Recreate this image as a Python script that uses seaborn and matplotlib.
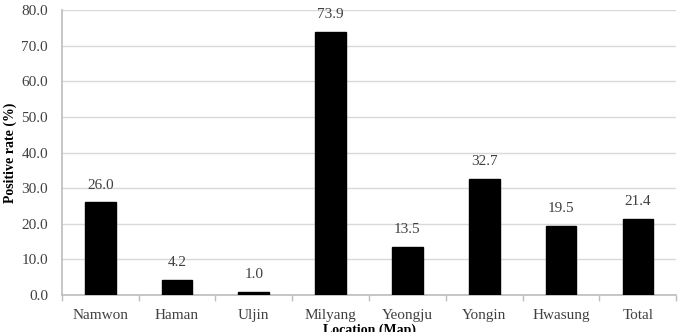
import matplotlib
matplotlib.use("Agg")
import matplotlib.pyplot as plt
import seaborn as sns
import pandas as pd
import numpy as np

locations = ["Namwon", "Haman", "Uljin", "Milyang", "Yeongju", "Yongin", "Hwasung", "Total"]
rates = [26.0, 4.2, 1.0, 73.9, 13.5, 32.7, 19.5, 21.4]
yticks = [0, 10, 20, 30, 40, 50, 60, 70, 80]

sns.set_theme(style="white")
plt.rcParams['font.family'] = ['Liberation Serif', 'DejaVu Serif']

df = pd.DataFrame({"Location": locations, "Rate": rates})

fig = plt.figure(figsize=(6.79, 3.32), dpi=100)
ax = fig.add_axes([0.091, 0.111, 0.905, 0.859])

sns.barplot(data=df, x="Location", y="Rate", color="black", width=0.4,
            edgecolor="black", saturation=1, ax=ax, zorder=3)

txt = "#404040"
fs = 11
for i, v in enumerate(rates):
    ax.text(i, v + 3.0, f"{v:.1f}", ha="center", va="bottom", fontsize=fs, color=txt)

ax.set_ylim(0, 80)
ax.set_xlim(-0.5, len(locations) - 0.5)
ax.set_yticks(yticks)
ax.set_yticklabels([f"{t:.1f}" for t in yticks], fontsize=fs, color=txt)
ax.yaxis.grid(True, color="#d9d9d9", linewidth=1, zorder=0)
ax.set_axisbelow(True)

ax.set_xticks(range(len(locations)))
ax.set_xticklabels(locations, fontsize=fs, color=txt)
ax.tick_params(axis="x", length=0, pad=10)
ax.tick_params(axis="y", length=0, pad=10)
# minor ticks at category boundaries
ax.set_xticks(np.arange(-0.5, len(locations), 1), minor=True)
ax.tick_params(axis="x", which="minor", length=4, color="#bfbfbf", direction="out", bottom=True)

for s in ["top", "right"]:
    ax.spines[s].set_visible(False)
ax.spines["left"].set_color("#bfbfbf")
ax.spines["bottom"].set_color("#bfbfbf")

ax.set_ylabel("Positive rate (%)", fontsize=10, fontweight="bold", color="black", labelpad=3)
ax.set_xlabel("Location (Map)", fontsize=10, fontweight="bold", color="black", labelpad=1)

fig.savefig("out.png", dpi=100)
